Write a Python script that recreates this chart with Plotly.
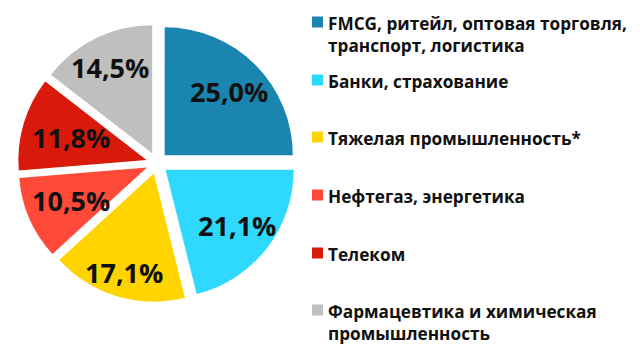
import math
import plotly.graph_objects as go

categories = [
    "FMCG, ритейл, оптовая торговля,<br>транспорт, логистика",
    "Банки, страхование",
    "Тяжелая промышленность*",
    "Нефтегаз, энергетика",
    "Телеком",
    "Фармацевтика и химическая<br>промышленность",
]
values = [25.0, 21.1, 17.1, 10.5, 11.8, 14.5]
colors = ["#1A85AE", "#2ED9FD", "#FFD400", "#FF4A3A", "#D9190A", "#BFBFBF"]

labels_txt = [f"{v:.1f}".replace(".", ",") + "%" for v in values]

# layout: radial position of each percentage label (fraction of radius)
label_r = [0.79, 0.79, 0.89, 0.73, 0.70, 0.83]

FONT = "Open Sans"
W, H = 640, 364
PULL = 0.085
DOM_X = [0.028, 0.4625]
DOM_Y = [0.17, 0.934]

fig = go.Figure()
fig.add_trace(go.Pie(
    labels=[c.replace("<br>", " ") for c in categories],
    values=values,
    textinfo="none",
    marker=dict(colors=colors, line=dict(width=0)),
    pull=[PULL] * len(values),
    sort=False,
    direction="clockwise",
    rotation=0,
    domain=dict(x=DOM_X, y=DOM_Y),
    showlegend=False,
    hoverinfo="label+percent",
))

# percentage labels placed along each slice bisector
cx = (DOM_X[0] + DOM_X[1]) / 2 * W
cy = (1 - (DOM_Y[0] + DOM_Y[1]) / 2) * H
R = min((DOM_X[1] - DOM_X[0]) * W, (DOM_Y[1] - DOM_Y[0]) * H) / 2 / (1 + PULL)
total = sum(values)
cum = 0.0
for v, t, lr in zip(values, labels_txt, label_r):
    mid = (cum + v / 2) / total * 2 * math.pi
    cum += v
    r = R * lr
    px = cx + r * math.sin(mid)
    py = cy - r * math.cos(mid)
    fig.add_annotation(xref="paper", yref="paper", x=px / W, y=1 - py / H,
                       text=f"<b>{t}</b>", showarrow=False,
                       xanchor="center", yanchor="middle",
                       font=dict(family=FONT, size=27, color="#111111"))

# manual legend
y_centers = [22, 80, 137, 195, 253, 310]
for cat, col, yc in zip(categories, colors, y_centers):
    fig.add_shape(type="rect", xref="paper", yref="paper",
                  x0=312 / W, x1=323 / W,
                  y0=1 - (yc + 5.5) / H, y1=1 - (yc - 5.5) / H,
                  fillcolor=col, line=dict(width=0))
    fig.add_annotation(xref="paper", yref="paper",
                       x=326 / W, y=1 - (yc - 12) / H,
                       xanchor="left", yanchor="top", align="left",
                       text=f"<b>{cat}</b>", showarrow=False,
                       font=dict(family=FONT, size=17.2, color="#111111"))

fig.update_layout(
    width=W, height=H,
    margin=dict(l=0, r=0, t=0, b=0),
    paper_bgcolor="white", plot_bgcolor="white",
)
fig.write_html("out.html")
